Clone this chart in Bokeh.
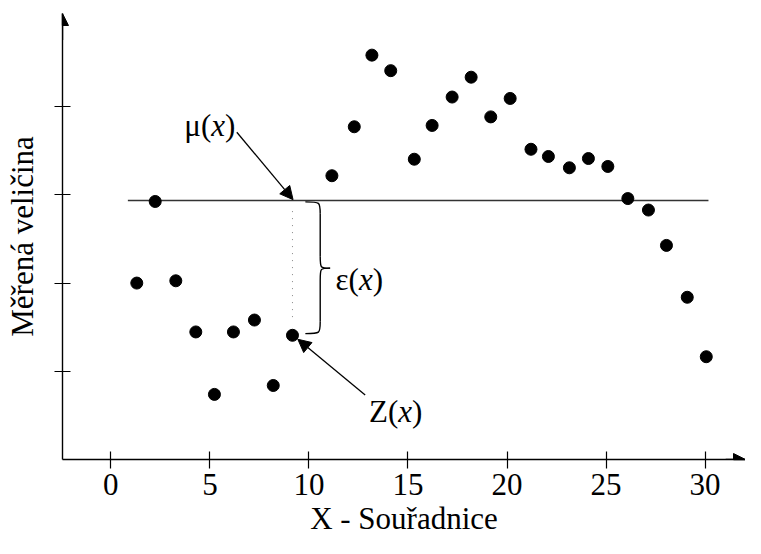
from bokeh.plotting import figure
from bokeh.models import LinearAxis, FixedTicker, Arrow, NormalHead
from bokeh.core.properties import value
from bokeh.embed import file_html
from bokeh.resources import INLINE

# ---- data ----
x_vals = [1.31, 2.24, 3.28, 4.29, 5.23, 6.19, 7.25, 8.20, 9.17,
          11.16, 12.29, 13.18, 14.13, 15.32, 16.22, 17.23, 18.19, 19.18, 20.16,
          21.21, 22.09, 23.15, 24.11, 25.09, 26.10, 27.14, 28.05, 29.10, 30.06]
y_vals = [2.00, 2.925, 2.026, 1.446, 0.738, 1.446, 1.581, 0.839, 1.408,
          3.217, 3.772, 4.584, 4.408, 3.404, 3.787, 4.109, 4.334, 3.884, 4.093,
          3.517, 3.435, 3.307, 3.412, 3.322, 2.958, 2.828, 2.427, 1.839, 1.165]
x_ticks = [0, 5, 10, 15, 20, 25, 30]
y_ticks = [1, 2, 3, 4]
mu_level = 2.936
mu_span = [0.86, 30.17]
z_point = 8  # index of the highlighted point Z(x)

FAMILY = "Liberation Serif, serif"
FONT = value(FAMILY)
FS = "31px"
X0, X1 = -2.44, 32.04
Y0, Y1 = 0.0, 5.056

p = figure(width=745, height=538, x_range=(X0, X1), y_range=(Y0, Y1),
           output_backend="svg", toolbar_location=None,
           x_axis_type=None, y_axis_type=None,
           min_border_left=62, min_border_right=0, min_border_top=13, min_border_bottom=75)
p.outline_line_color = None
p.background_fill_color = "white"
p.border_fill_color = "white"

xaxis = LinearAxis(ticker=FixedTicker(ticks=x_ticks), axis_label="X - Souřadnice")
yaxis = LinearAxis(ticker=FixedTicker(ticks=y_ticks), axis_label="Měřená veličina",
                   major_label_overrides={t: "" for t in y_ticks})
for ax in (xaxis, yaxis):
    ax.axis_line_color = "black"
    ax.axis_line_width = 1.4
    ax.major_tick_line_color = "black"
    ax.major_tick_line_width = 1.2
    ax.minor_tick_line_color = None
    ax.major_label_text_font = FAMILY
    ax.major_label_text_font_size = FS
    ax.major_label_text_color = "black"
    ax.axis_label_text_font = FAMILY
    ax.axis_label_text_font_size = FS
    ax.axis_label_text_font_style = "normal"
    ax.axis_label_text_color = "black"
xaxis.major_tick_in = 8
xaxis.major_tick_out = 9
xaxis.major_label_standoff = 5
xaxis.axis_label_standoff = 3
yaxis.major_tick_in = 8
yaxis.major_tick_out = 8
yaxis.major_label_standoff = 0
yaxis.axis_label_standoff = 15
p.add_layout(xaxis, "below")
p.add_layout(yaxis, "left")

# axis arrow heads
p.add_layout(Arrow(x_start=X0, y_start=Y1 - 0.3, x_end=X0, y_end=Y1, line_color="black", line_width=1.4,
                   end=NormalHead(size=12, fill_color="black", line_color="black")))
p.add_layout(Arrow(x_start=X1 - 1.0, y_start=Y0, x_end=X1, y_end=Y0, line_color="black", line_width=1.4,
                   end=NormalHead(size=12, fill_color="black", line_color="black")))

# mean line
p.line(mu_span, [mu_level, mu_level], line_color="#333333", line_width=1.3)

# dotted vertical from mean line to Z(x)
zx, zy = x_vals[z_point], y_vals[z_point]
p.line([zx, zx], [mu_level - 0.12, zy + 0.2], line_color="#888888", line_width=1, line_dash="1 6")

# points
p.scatter(x_vals, y_vals, size=12, color="black")

# curly brace epsilon(x)
bx_l, bx_v, bx_t = 9.82, 10.57, 11.07
by_t, by_b, by_m = 2.92, 1.427, 2.169
d = 0.135
p.bezier(x0=[bx_l, bx_v, bx_t, bx_v], y0=[by_t, by_m + d, by_m, by_b + d],
         x1=[bx_v, bx_t, bx_v, bx_l], y1=[by_t - d, by_m, by_m - d, by_b],
         cx0=[bx_v, bx_v, bx_v, bx_v], cy0=[by_t, by_m, by_m, by_b],
         cx1=[bx_v, bx_v, bx_v, bx_v], cy1=[by_t, by_m, by_m, by_b],
         line_color="black", line_width=1.4)
p.segment(x0=[bx_v, bx_v], y0=[by_t - d, by_m - d], x1=[bx_v, bx_v], y1=[by_m + d, by_b + d],
          line_color="black", line_width=1.4)

# annotation arrows
p.add_layout(Arrow(x_start=6.36, y_start=3.71, x_end=9.20, y_end=mu_level + 0.01,
                   line_color="black", line_width=1.3,
                   end=NormalHead(size=13, fill_color="black", line_color="black")))
p.add_layout(Arrow(x_start=12.84, y_start=0.73, x_end=9.44, y_end=1.363,
                   line_color="black", line_width=1.3,
                   end=NormalHead(size=13, fill_color="black", line_color="black")))

# math-like labels: prefix, italic x, suffix
XW = 6.9  # half advance of italic x at 31px


def math_label(cx, by, prefix):
    p.text([cx], [by], text=[prefix], text_align="right", text_baseline="alphabetic",
           x_offset=-XW, text_font=FONT, text_font_size=FS, text_color="black")
    p.text([cx], [by], text=["x"], text_align="center", text_baseline="alphabetic",
           text_font=FONT, text_font_size=FS, text_font_style="italic", text_color="black")
    p.text([cx], [by], text=[")"], text_align="left", text_baseline="alphabetic",
           x_offset=XW, text_font=FONT, text_font_size=FS, text_color="black")


math_label(5.42, 3.787, "μ(")
math_label(12.87, 2.045, "ε(")
math_label(14.86, 0.539, "Z(")

open("out.html", "w").write(file_html(p, INLINE))
